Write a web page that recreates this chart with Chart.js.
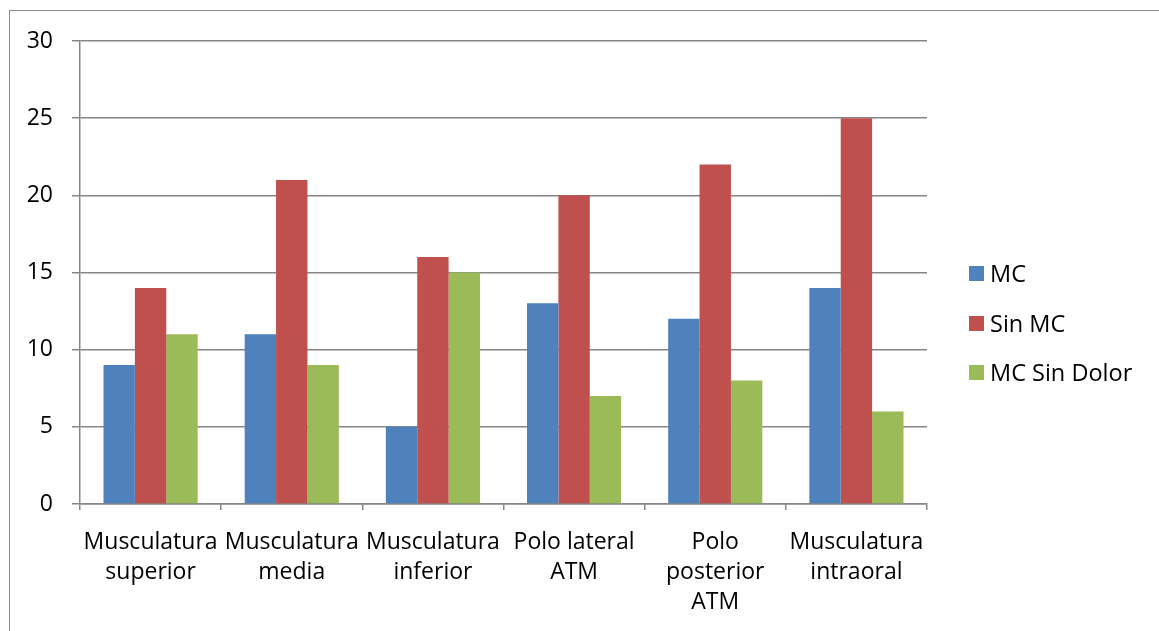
<!DOCTYPE html>
<html>
<head>
<meta charset="utf-8">
<script src="https://cdn.jsdelivr.net/npm/chart.js@4"></script>
<style>
  html, body { margin: 0; padding: 0; background: #fff; overflow: hidden; }
  #wrap { position: relative; width: 1159px; height: 631px; }
  #frame { position: absolute; left: 9px; top: 10px; width: 1200px; height: 700px;
           border: 1.5px solid #8a8a8a; box-sizing: border-box; }
  canvas { position: absolute; left: 0; top: 0; }
  #legend { position: absolute; left: 969px; top: 0; font-family: "Open Sans", sans-serif;
            font-size: 23.5px; color: #000; }
  .item { position: absolute; left: 0; white-space: nowrap; display: flex; align-items: center; }
  .sw { width: 15px; height: 15px; margin-right: 6px; }
</style>
</head>
<body>
<div id="wrap">
  <div id="frame"></div>
  <canvas id="c" width="1159" height="631"></canvas>
  <div id="legend"></div>
</div>
<script>
const categories = [
  ["Musculatura", "superior"],
  ["Musculatura", "media"],
  ["Musculatura", "inferior"],
  ["Polo lateral", "ATM"],
  ["Polo", "posterior", "ATM"],
  ["Musculatura", "intraoral"]
];
const seriesNames = ["MC", "Sin MC", "MC Sin Dolor"];
const mcValues = [9, 11, 5, 13, 12, 14];
const sinMcValues = [14, 21, 16, 20, 22, 25];
const mcSinDolorValues = [11, 9, 15, 7, 8, 6];
const seriesColors = ["#4F81BD", "#C0504D", "#9BBB59"];

const FONT = "'Open Sans', sans-serif";
const GRID = "#868686";

const data = {
  labels: categories,
  datasets: [mcValues, sinMcValues, mcSinDolorValues].map((vals, i) => ({
    label: seriesNames[i],
    data: vals,
    backgroundColor: seriesColors[i],
    borderWidth: 0,
    categoryPercentage: 0.667,
    barPercentage: 1.0
  }))
};

new Chart(document.getElementById("c"), {
  type: "bar",
  data,
  options: {
    responsive: false,
    animation: false,
    layout: { padding: { left: 0, top: 41, right: 232, bottom: 0 } },
    plugins: { legend: { display: false }, tooltip: { enabled: false } },
    scales: {
      x: {
        offset: true,
        grid: { offset: true, drawOnChartArea: false, color: GRID, tickLength: 6, lineWidth: 1.5 },
        border: { color: GRID, width: 1.5 },
        ticks: { color: "#000", font: { family: FONT, size: 23, lineHeight: 1.3 }, padding: 18, maxRotation: 0, autoSkip: false },
        afterFit: s => { s.height = 127; }
      },
      y: {
        min: 0, max: 30,
        ticks: { stepSize: 5, color: "#000", font: { family: FONT, size: 23 }, padding: 19 },
        grid: { color: GRID, tickLength: 8, lineWidth: 1.5 },
        border: { color: GRID, width: 1.5 },
        afterFit: s => { s.width = 80; }
      }
    }
  }
});

// Legend entries on the right
const legend = document.getElementById("legend");
const legendY = [273, 323, 372];
seriesNames.forEach((name, i) => {
  const row = document.createElement("div");
  row.className = "item";
  row.style.top = (legendY[i] - 16) + "px";
  row.style.height = "32px";
  const sw = document.createElement("span");
  sw.className = "sw";
  sw.style.background = seriesColors[i];
  const tx = document.createElement("span");
  tx.textContent = name;
  row.appendChild(sw);
  row.appendChild(tx);
  legend.appendChild(row);
});
</script>
</body>
</html>
